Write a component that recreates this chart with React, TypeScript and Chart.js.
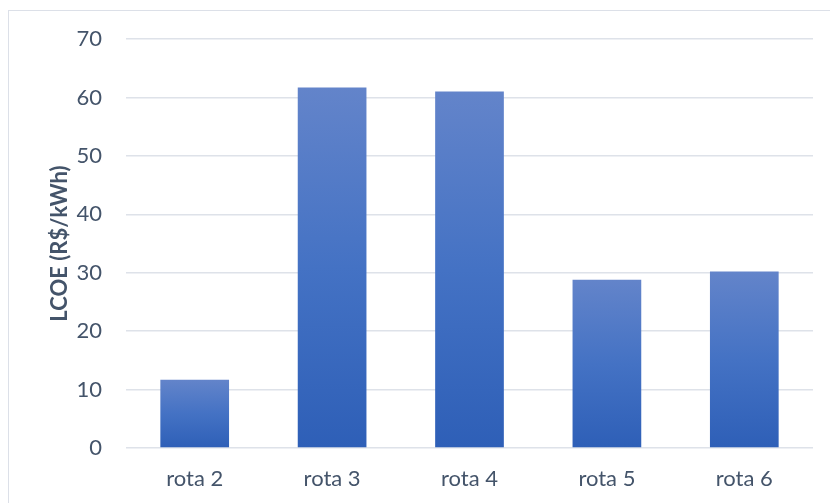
import React, { useEffect, useRef } from "react";
import { Chart, registerables } from "chart.js";

Chart.register(...registerables);

const categories = ["rota 2", "rota 3", "rota 4", "rota 5", "rota 6"];
const lcoeValues = [11.7, 61.7, 61.0, 28.8, 30.2];
const yTicks = [0, 10, 20, 30, 40, 50, 60, 70];

const TEXT_COLOR = "#44546A";
const GRID_COLOR = "#DEE2E9";
const FONT_FAMILY = "Lato, 'Open Sans', sans-serif";

export default function App() {
  const canvasRef = useRef<HTMLCanvasElement | null>(null);

  useEffect(() => {
    const canvas = canvasRef.current;
    if (!canvas) return;

    const chart = new Chart(canvas, {
      type: "bar",
      data: {
        labels: categories,
        datasets: [
          {
            label: "LCOE (R$/kWh)",
            data: lcoeValues,
            categoryPercentage: 1,
            barPercentage: 0.5,
            borderWidth: 0,
            backgroundColor: (ctx: any) => {
              const c = ctx.chart;
              const yScale = c.scales?.y;
              if (!c.chartArea || !yScale || ctx.type !== "data") return "#4472C4";
              const top = yScale.getPixelForValue(ctx.raw as number);
              const base = yScale.getPixelForValue(0);
              if (!isFinite(top) || !isFinite(base) || top === base) return "#4472C4";
              const g = c.ctx.createLinearGradient(0, top, 0, base);
              g.addColorStop(0, "#6384CA");
              g.addColorStop(0.5, "#4472C4");
              g.addColorStop(1, "#2E5FB7");
              return g;
            },
          },
        ],
      },
      options: {
        responsive: false,
        animation: false,
        layout: { padding: { top: 39, right: 17, bottom: 0, left: 0 } },
        plugins: {
          legend: { display: false },
          tooltip: { enabled: false },
        },
        scales: {
          x: {
            grid: { display: false, drawTicks: false },
            border: { display: false },
            ticks: {
              color: TEXT_COLOR,
              font: { family: FONT_FAMILY, size: 22 },
              padding: 18,
            },
            afterFit: (scale: any) => {
              scale.height = 55;
            },
          },
          y: {
            min: 0,
            max: 70,
            grid: { color: GRID_COLOR, lineWidth: 1.5, drawTicks: false },
            border: { display: false },
            afterBuildTicks: (scale: any) => {
              scale.ticks = yTicks.map((v) => ({ value: v }));
            },
            ticks: {
              color: TEXT_COLOR,
              font: { family: FONT_FAMILY, size: 22 },
              padding: 24,
            },
            title: {
              display: true,
              text: "LCOE (R$/kWh)",
              color: TEXT_COLOR,
              font: { family: FONT_FAMILY, size: 22, weight: "bold" },
              padding: { top: 47, bottom: 0 },
            },
            afterFit: (scale: any) => {
              scale.width = 126;
            },
          },
        },
      },
    });

    return () => chart.destroy();
  }, []);

  return (
    <div
      style={{
        position: "fixed",
        left: 0,
        top: 0,
        width: 830,
        height: 503,
        overflow: "hidden",
        background: "#FFFFFF",
      }}
    >
      <div
        style={{
          position: "absolute",
          left: 8,
          top: 10,
          width: 900,
          height: 600,
          border: "1.5px solid #DCE0E8",
        }}
      />
      <canvas
        ref={canvasRef}
        width={830}
        height={503}
        style={{ position: "absolute", left: 0, top: 0 }}
      />
    </div>
  );
}
